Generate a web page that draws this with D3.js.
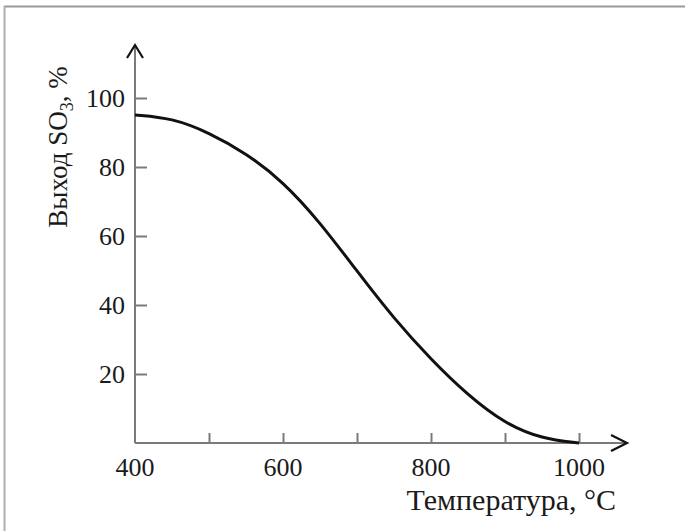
<!DOCTYPE html>
<html><head><meta charset="utf-8">
<script src="https://cdn.jsdelivr.net/npm/d3@7"></script>
<style>html,body{margin:0;padding:0;background:#fff;}svg{display:block;}</style>
</head><body>
<script>
const temps = [400, 450, 500, 550, 600, 650, 700, 750, 800, 850, 900, 950, 1000];
const yieldSO3 = [95.1, 94.2, 90.0, 84.0, 75.8, 64.0, 49.8, 36.0, 24.2, 13.8, 5.6, 1.2, 0];
const xTicks = [400, 500, 600, 700, 800, 900, 1000];
const xTickLabels = ["400", "", "600", "", "800", "", "1000"];
const yTicks = [20, 40, 60, 80, 100];

const W = 685, H = 531;
const svg = d3.select("body").append("svg").attr("width", W).attr("height", H);
const font = "'Liberation Serif', 'Times New Roman', serif";
const txtColor = "#1a1a1a";

// frame
svg.append("line").attr("x1", 4).attr("x2", W).attr("y1", 6.5).attr("y2", 6.5).attr("stroke", "#9a9a9a").attr("stroke-width", 2);
svg.append("line").attr("x1", 4.5).attr("x2", 4.5).attr("y1", 6).attr("y2", H).attr("stroke", "#b0b0b0").attr("stroke-width", 2);

const x = d3.scaleLinear().domain([400, 1000]).range([135, 579]);
const y = d3.scaleLinear().domain([0, 100]).range([443, 98]);

const axisColor = "#7a7a7a";
svg.append("line").attr("x1", x(400)).attr("x2", 626).attr("y1", y(0)).attr("y2", y(0)).attr("stroke", axisColor).attr("stroke-width", 2);
svg.append("line").attr("x1", x(400)).attr("x2", x(400)).attr("y1", y(0)).attr("y2", 46).attr("stroke", axisColor).attr("stroke-width", 2);

// arrows
svg.append("path").attr("d", `M${x(400)-8},58 L${x(400)},45 L${x(400)+8},58`).attr("fill", "none").attr("stroke", "#111").attr("stroke-width", 2.2);
svg.append("path").attr("d", `M611,${y(0)-8} L627,${y(0)} L611,${y(0)+8}`).attr("fill", "none").attr("stroke", "#111").attr("stroke-width", 2.2);

// x axis (ticks upward)
const xAxis = d3.axisTop(x).tickValues(xTicks).tickSize(10).tickFormat("");
const gx = svg.append("g").attr("transform", `translate(0,${y(0)})`).call(xAxis);
gx.select(".domain").remove();
gx.selectAll(".tick line").attr("stroke", axisColor).attr("stroke-width", 2).filter(d => d === 400).remove();
svg.append("g").selectAll("text").data(xTicks.map((t, i) => ({t, l: xTickLabels[i]})).filter(d => d.l))
  .join("text").attr("x", d => x(d.t)).attr("y", 476).attr("text-anchor", "middle")
  .attr("font-family", font).attr("font-size", 26).attr("fill", txtColor).text(d => d.l);

// y axis (ticks inward)
const yAxis = d3.axisRight(y).tickValues(yTicks).tickSize(12).tickFormat("");
const gy = svg.append("g").attr("transform", `translate(${x(400)},0)`).call(yAxis);
gy.select(".domain").remove();
gy.selectAll(".tick line").attr("stroke", axisColor).attr("stroke-width", 2);
svg.append("g").selectAll("text").data(yTicks).join("text")
  .attr("x", 125).attr("y", d => y(d)).attr("dy", "0.33em").attr("text-anchor", "end")
  .attr("font-family", font).attr("font-size", 26).attr("fill", txtColor).text(d => d);

// curve
const line = d3.line().x((d, i) => x(temps[i])).y(d => y(d)).curve(d3.curveBasis);
svg.append("path").datum(yieldSO3).attr("d", line).attr("fill", "none").attr("stroke", "#111").attr("stroke-width", 3);

// titles
svg.append("text").attr("x", 616).attr("y", 510).attr("text-anchor", "end")
  .attr("font-family", font).attr("font-size", 30).attr("fill", txtColor).text("Температура, °С");

const yt = svg.append("text").attr("transform", "translate(67,147) rotate(-90)").attr("text-anchor", "middle")
  .attr("font-family", font).attr("font-size", 27).attr("fill", txtColor);
yt.append("tspan").text("Выход SO");
yt.append("tspan").attr("font-size", 18).attr("dy", 6).text("3");
yt.append("tspan").attr("dy", -6).text(", %");
</script>
</body></html>
